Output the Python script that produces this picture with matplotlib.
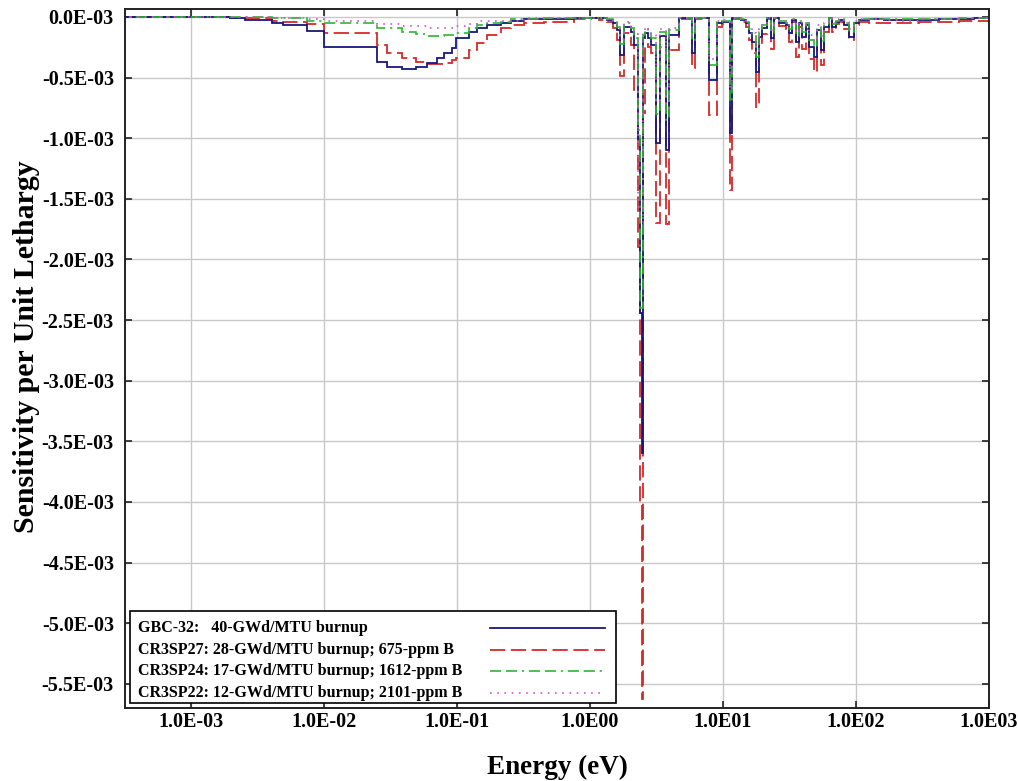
import matplotlib
matplotlib.use("Agg")
import matplotlib.pyplot as plt
from matplotlib.patches import Rectangle
import numpy as np

plt.rcParams['font.family'] = ['Liberation Serif', 'DejaVu Serif']
plt.rcParams['font.weight'] = 'bold'
plt.rcParams['lines.scale_dashes'] = False

# Energy group boundaries (eV)
edges = [1.0e-4, 1.96e-3, 2.54e-3, 4.06e-3, 4.91e-3, 7.43e-3, 1.00e-2, 2.53e-2, 2.96e-2,
         3.90e-2, 4.97e-2, 5.91e-2, 7.03e-2, 8.07e-2, 9.11e-2, 9.93e-2, 0.1243, 0.1428,
         0.1697, 0.2162, 0.2570, 0.3217, 0.4548, 0.7636, 1.024, 1.177, 1.351, 1.498,
         1.606, 1.691, 1.813, 2.045, 2.154, 2.309, 2.390, 2.453, 2.517, 2.606, 2.744,
         2.891, 3.124, 3.377, 3.713, 3.946, 4.691, 4.941, 5.872, 6.184, 7.879, 8.968,
         9.863, 11.23, 11.72, 13.70, 14.94, 15.73, 16.57, 17.60, 18.70, 19.70, 21.47,
         23.01, 24.24, 26.42, 29.82, 31.41, 33.08, 35.45, 37.34, 39.33, 42.14, 44.38,
         48.38, 50.96, 54.60, 57.52, 62.71, 66.05, 70.77, 74.55, 81.27, 88.60, 96.6,
         105.3, 125.2, 162.3, 210.3, 297.2, 420.0, 593.2, 768.8, 1000.0]

# Sensitivity per unit lethargy (x 1E-03)
gbc32 = [0, -0.011, -0.025, -0.047, -0.066, -0.115, -0.245, -0.368, -0.409, -0.431,
         -0.414, -0.376, -0.340, -0.299, -0.258, -0.175, -0.121, -0.093, -0.066, -0.047,
         -0.030, -0.019, -0.016, -0.008,
         -0.006, -0.011, -0.025, -0.052, -0.107, -0.31, -0.08, -0.12, -0.23, -1.01,
         -2.44, -3.60, -0.17, -0.13, -0.17, -0.23, -1.04, -0.16, -1.10, -0.15, -0.010,
         -0.011, -0.30, -0.011, -0.52, -0.052, -0.039, -0.96, -0.010, -0.025, -0.052,
         -0.13, -0.21, -0.45, -0.165, -0.09, -0.008, -0.173, -0.008, -0.049, -0.066,
         -0.13, -0.025, -0.21, -0.049, -0.165, -0.066, -0.247, -0.33, -0.107, -0.27,
         -0.082, -0.008, -0.082, -0.041, -0.025, -0.066, -0.165, -0.049, -0.025, -0.020,
         -0.025, -0.029, -0.025, -0.020, -0.016, -0.012]
cr3sp27 = [0, -0.008, -0.008, -0.030, -0.039, -0.058, -0.134, -0.231, -0.294, -0.340,
           -0.368, -0.387, -0.387, -0.376, -0.354, -0.340, -0.272, -0.217, -0.148, -0.093,
           -0.066, -0.047, -0.039, -0.020,
           -0.008, -0.021, -0.041, -0.090, -0.190, -0.49, -0.13, -0.23, -0.60, -1.90,
           -4.00, -5.63, -0.79, -0.22, -0.25, -0.30, -1.70, -0.25, -1.71, -0.27, -0.020,
           -0.020, -0.42, -0.020, -0.81, -0.080, -0.060, -1.43, -0.018, -0.040, -0.080,
           -0.19, -0.30, -0.74, -0.25, -0.14, -0.015, -0.26, -0.015, -0.075, -0.10,
           -0.21, -0.04, -0.33, -0.08, -0.26, -0.10, -0.35, -0.45, -0.16, -0.40,
           -0.12, -0.015, -0.12, -0.06, -0.04, -0.10, -0.19, -0.07, -0.045, -0.050,
           -0.052, -0.052, -0.045, -0.040, -0.035, -0.030]
cr3sp24 = [0, 0, 0, -0.011, -0.011, -0.030, -0.047, -0.093, -0.093, -0.121,
           -0.140, -0.157, -0.157, -0.148, -0.148, -0.129, -0.093, -0.066, -0.049, -0.039,
           -0.019, -0.019, -0.012, -0.008,
           -0.005, -0.010, -0.020, -0.040, -0.080, -0.22, -0.05, -0.09, -0.17, -0.93,
           -2.40, -2.40, -0.15, -0.10, -0.12, -0.17, -0.80, -0.12, -0.85, -0.11, -0.008,
           -0.008, -0.20, -0.008, -0.40, -0.040, -0.030, -0.70, -0.008, -0.020, -0.040,
           -0.10, -0.16, -0.33, -0.12, -0.07, -0.006, -0.13, -0.006, -0.037, -0.05,
           -0.10, -0.02, -0.16, -0.037, -0.12, -0.05, -0.19, -0.25, -0.08, -0.20,
           -0.06, -0.006, -0.06, -0.03, -0.02, -0.05, -0.12, -0.035, -0.018, -0.015,
           -0.018, -0.020, -0.018, -0.015, -0.012, -0.010]
cr3sp22 = [0, 0, 0, -0.008, -0.008, -0.016, -0.030, -0.058, -0.058, -0.074,
           -0.074, -0.093, -0.093, -0.093, -0.093, -0.074, -0.058, -0.037, -0.037, -0.030,
           -0.030, -0.011, -0.011, -0.008,
           -0.005, -0.010, -0.018, -0.035, -0.070, -0.18, -0.04, -0.08, -0.14, -1.60,
           -1.70, -1.70, -0.12, -0.08, -0.10, -0.14, -0.70, -0.10, -0.75, -0.09, -0.006,
           -0.006, -0.15, -0.006, -0.35, -0.030, -0.025, -0.60, -0.006, -0.015, -0.030,
           -0.08, -0.13, -0.28, -0.10, -0.06, -0.005, -0.11, -0.005, -0.03, -0.04,
           -0.08, -0.015, -0.13, -0.03, -0.10, -0.04, -0.15, -0.20, -0.065, -0.16,
           -0.05, -0.005, -0.05, -0.025, -0.015, -0.04, -0.10, -0.03, -0.015, -0.020,
           -0.022, -0.030, -0.020, -0.018, -0.012, -0.010]

labels = ["GBC-32:   40-GWd/MTU burnup",
          "CR3SP27: 28-GWd/MTU burnup; 675-ppm B",
          "CR3SP24: 17-GWd/MTU burnup; 1612-ppm B",
          "CR3SP22: 12-GWd/MTU burnup; 2101-ppm B"]

xticks = [1e-3, 1e-2, 1e-1, 1e0, 1e1, 1e2, 1e3]
xticklabels = ["1.0E-03", "1.0E-02", "1.0E-01", "1.0E00", "1.0E01", "1.0E02", "1.0E03"]
yticks = [0.0, -0.5, -1.0, -1.5, -2.0, -2.5, -3.0, -3.5, -4.0, -4.5, -5.0, -5.5]
yticklabels = ["0.0E-03", "-0.5E-03", "-1.0E-03", "-1.5E-03", "-2.0E-03", "-2.5E-03",
               "-3.0E-03", "-3.5E-03", "-4.0E-03", "-4.5E-03", "-5.0E-03", "-5.5E-03"]

scale = 1e-3

fig = plt.figure(figsize=(10.18, 7.81), dpi=100)
ax = fig.add_axes([0.1228, 0.0935, 0.8487, 0.8950])

styles = [
    dict(color='#d42a2a', lw=1.3, dashes=(11, 4)),
    dict(color='#18187a', lw=1.3, linestyle='-'),
    dict(color='#2fb52f', lw=1.2, dashes=(8, 3.5, 8, 3.5, 1.5, 3.5)),
    dict(color='#d055d0', lw=1.2, dashes=(1.2, 4)),
]
series = [cr3sp27, gbc32, cr3sp24, cr3sp22]
for vals, st in zip(series, styles):
    ls = st.get('linestyle', '--')
    art = ax.stairs(np.array(vals) * scale, edges, baseline=None, color=st['color'],
                    linewidth=st['lw'], linestyle=ls)
    if 'dashes' in st:
        art.set_linestyle((0, st['dashes']))

ax.set_xscale('log')
ax.set_xlim(3.2e-4, 1e3)
ax.set_ylim(-5.70 * scale, 0.066 * scale)

ax.set_xticks(xticks)
ax.set_xticklabels(xticklabels)
ax.xaxis.set_minor_locator(matplotlib.ticker.NullLocator())
ax.set_yticks([v * scale for v in yticks])
ax.set_yticklabels(yticklabels)

ax.grid(True, color='#c8c8c8', linewidth=1.0)
ax.set_axisbelow(True)
ax.tick_params(direction='in', length=5, width=1.2, top=True, right=True,
               labelsize=14.5, color='#222222')
ax.tick_params(axis='x', pad=3)
ax.tick_params(axis='y', pad=8)
for lab in ax.get_xticklabels() + ax.get_yticklabels():
    lab.set_fontweight('bold')
for sp in ax.spines.values():
    sp.set_linewidth(1.4)
    sp.set_color('#222222')

ax.set_xlabel("Energy (eV)", fontsize=19.5, fontweight='bold', labelpad=16)
ax.set_ylabel("Sensitivity per Unit Lethargy", fontsize=21.5, fontweight='bold')
ax.yaxis.set_label_coords(-0.098, 0.517)

# Legend (labels left, line samples right)
ax.add_patch(Rectangle((0.0058, 0.0071), 0.5625, 0.1315, transform=ax.transAxes,
                       facecolor='white', edgecolor='black', linewidth=1.2, zorder=5))
rows_y = [0.1143, 0.0829, 0.0529, 0.0214]
leg_styles = [styles[1], styles[0], styles[2], styles[3]]
for lab, yv, st in zip(labels, rows_y, leg_styles):
    ax.text(0.015, yv, lab, transform=ax.transAxes, fontsize=11.5, fontweight='bold',
            va='center', ha='left', zorder=6)
    ln, = ax.plot([0.4225, 0.5556], [yv, yv], transform=ax.transAxes, color=st['color'],
                  linewidth=st['lw'], zorder=6, clip_on=False)
    if 'dashes' in st:
        ln.set_dashes(st['dashes'])

fig.savefig("out.png", dpi=100, facecolor='white')
